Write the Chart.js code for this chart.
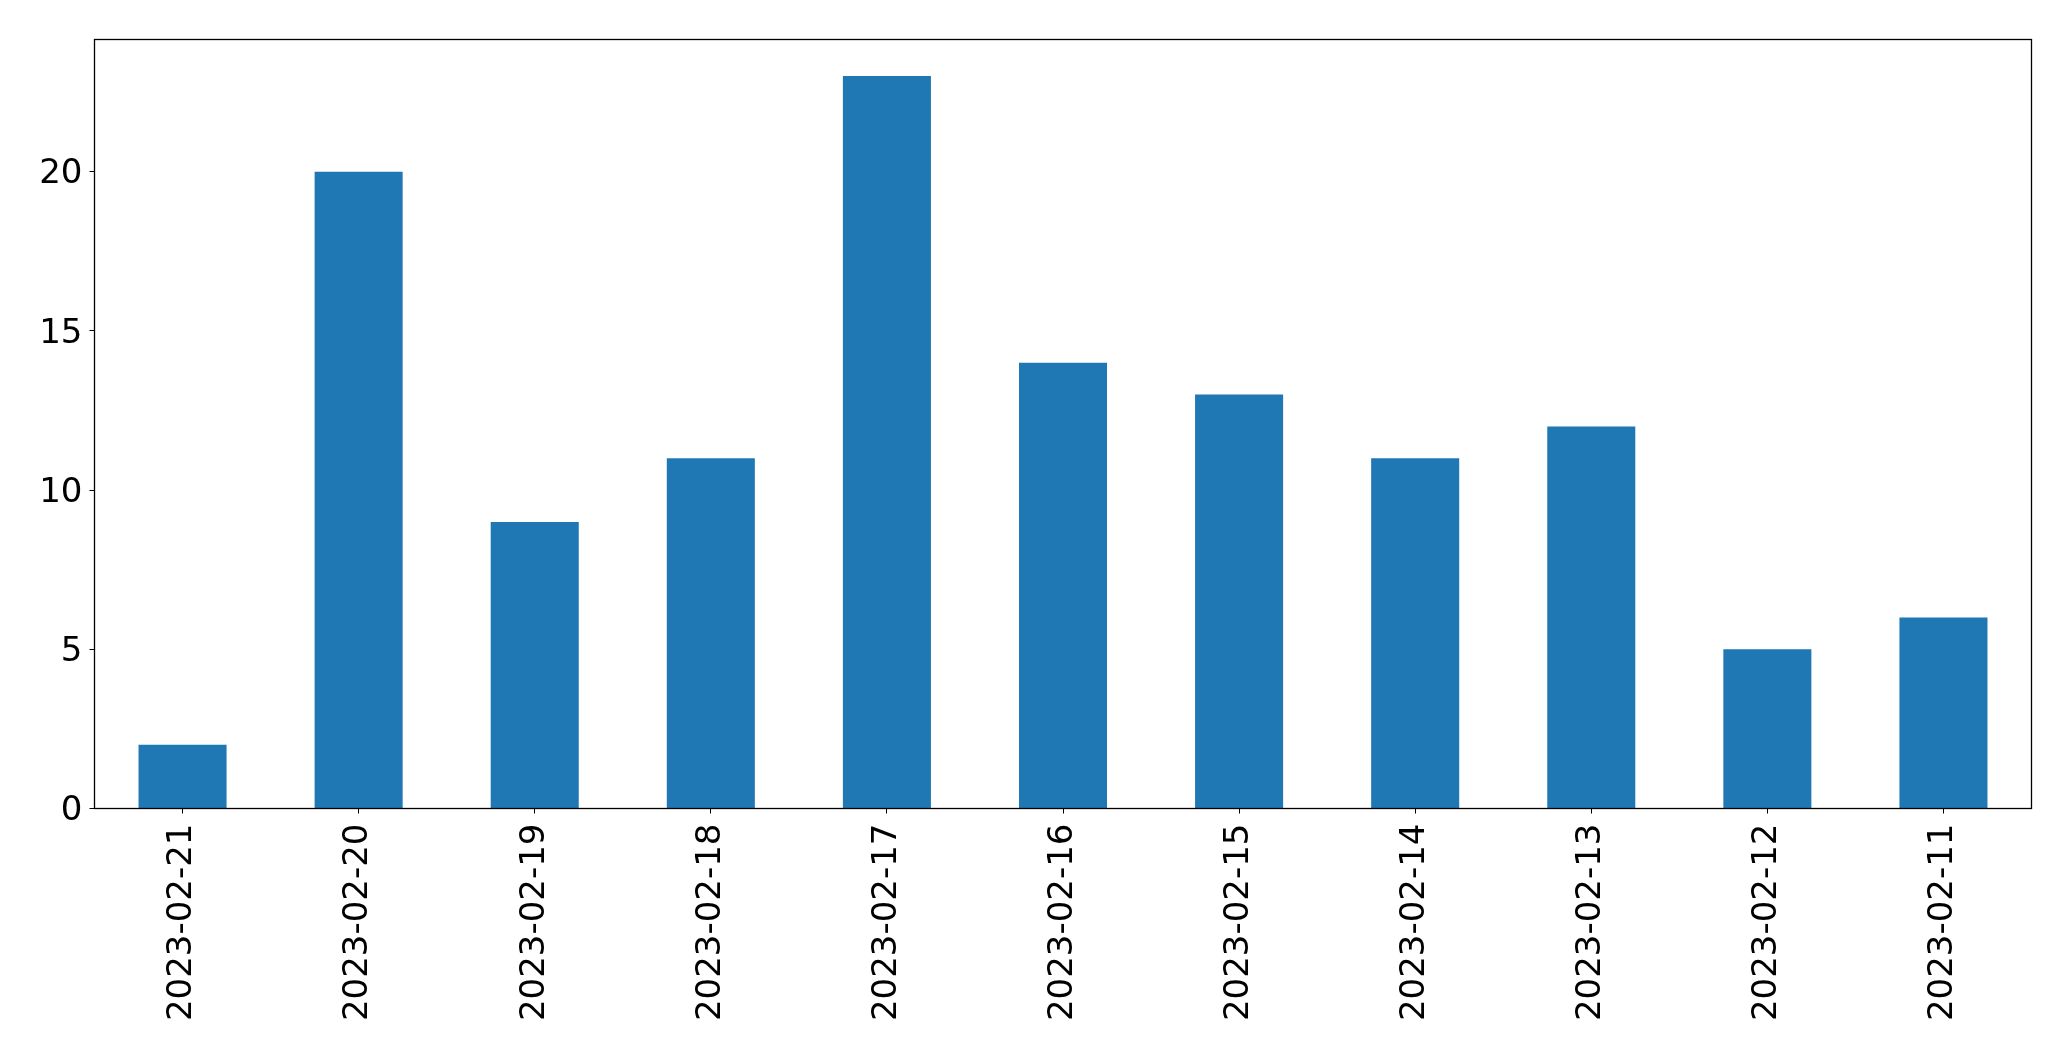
<!DOCTYPE html>
<html>
<head>
<meta charset="utf-8">
<script src="https://cdn.jsdelivr.net/npm/chart.js@4/dist/chart.umd.min.js"></script>
<style>
  html, body { margin: 0; padding: 0; background: #fff; }
  #wrap { width: 2071px; height: 1061px; }
</style>
</head>
<body>
<div id="wrap"><canvas id="grafico1" width="2071" height="1061"></canvas></div>
<script>
var fechas = ['2023-02-21', '2023-02-20', '2023-02-19', '2023-02-18', '2023-02-17', '2023-02-16',
              '2023-02-15', '2023-02-14', '2023-02-13', '2023-02-12', '2023-02-11'];
var cuentas = [2, 20, 9, 11, 23, 14, 13, 11, 12, 5, 6];
var yTicks = [0, 5, 10, 15, 20];

// marco completo alrededor del area del grafico
var marco = {
  id: 'marco',
  afterDraw: function(chart) {
    var a = chart.chartArea, c = chart.ctx;
    c.save();
    c.strokeStyle = '#000';
    c.lineWidth = 1.3;
    c.strokeRect(a.left, a.top, a.right - a.left, a.bottom - a.top);
    c.restore();
  }
};

var ctx = document.getElementById('grafico1');
new Chart(ctx, {
  type: 'bar',
  data: {
    labels: fechas,
    datasets: [{
      data: cuentas,
      backgroundColor: '#1f77b4',
      barPercentage: 0.5,
      categoryPercentage: 1.0
    }]
  },
  options: {
    responsive: false,
    animation: false,
    layout: { padding: { top: 39.5, right: 39.5, left: 0, bottom: 0 } },
    plugins: { legend: { display: false }, tooltip: { enabled: false } },
    scales: {
      x: {
        offset: true,
        grid: { display: true, drawOnChartArea: false, tickLength: 5, tickColor: '#000', offset: false },
        border: { display: false },
        ticks: {
          color: '#000',
          font: { family: 'DejaVu Sans', size: 34 },
          minRotation: 90, maxRotation: 90,
          padding: 10,
          autoSkip: false
        },
        afterFit: function(s) { s.height = 252.5; }
      },
      y: {
        min: 0,
        max: 23 * 1.05,
        grid: { display: true, drawOnChartArea: false, tickLength: 5, tickColor: '#000' },
        border: { display: false },
        afterBuildTicks: function(s) { s.ticks = yTicks.map(function(v) { return { value: v }; }); },
        ticks: {
          color: '#000',
          font: { family: 'DejaVu Sans', size: 34 },
          padding: 7,
          labelOffset: 3
        },
        afterFit: function(s) { s.width = 94.5; }
      }
    }
  },
  plugins: [marco]
});
</script>
</body>
</html>
